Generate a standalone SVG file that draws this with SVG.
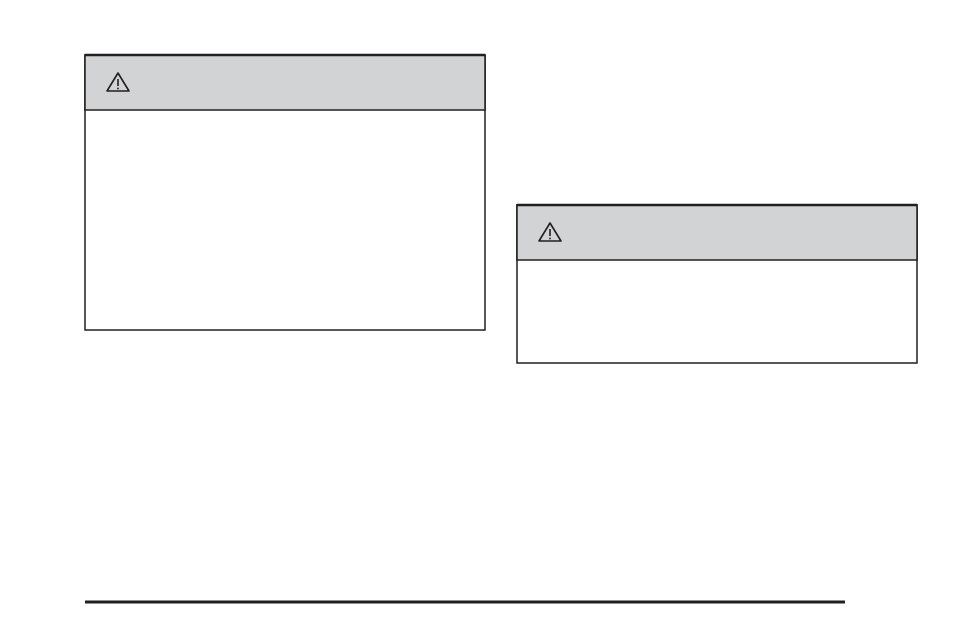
<svg xmlns="http://www.w3.org/2000/svg" width="954" height="636" viewBox="0 0 954 636">
<defs>
<style>
.hdr{fill:#d1d3d4;stroke:#231f20;stroke-width:1.5}
.body{fill:#fff;stroke:#231f20;stroke-width:1.5}
.tri{fill:none;stroke:#231f20;stroke-width:1.6;stroke-linejoin:round}
</style>
<g id="warn">
<path class="tri" d="M0,-9 L11,9 L-11,9 Z"/>
<line x1="0" y1="-3" x2="0" y2="4" stroke="#231f20" stroke-width="1.6"/>
<circle cx="0" cy="6.5" r="0.9" fill="#231f20"/>
</g>
</defs>
<rect width="954" height="636" fill="#fff"/>
<g id="box1">
<rect class="body" x="85" y="55" width="400" height="275"/>
<rect class="hdr" x="85" y="55" width="400" height="55"/>
<line x1="85" y1="55" x2="485" y2="55" stroke="#231f20" stroke-width="2.5"/>
<use href="#warn" x="118" y="82"/>
</g>
<g id="box2">
<rect class="body" x="517" y="205" width="400" height="158"/>
<rect class="hdr" x="517" y="205" width="400" height="55"/>
<line x1="517" y1="205" x2="917" y2="205" stroke="#231f20" stroke-width="2.5"/>
<use href="#warn" x="550" y="232"/>
</g>
<g id="connectors"></g>
<line x1="85" y1="602" x2="845" y2="602" stroke="#231f20" stroke-width="3"/>
</svg>
